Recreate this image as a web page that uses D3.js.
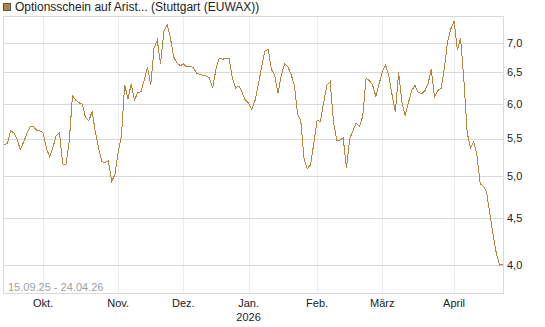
<!DOCTYPE html>
<html>
<head>
<meta charset="utf-8">
<script src="https://cdn.jsdelivr.net/npm/d3@7"></script>
<style>
  body { margin: 0; background: #fff; }
  svg { display: block; font-family: "Liberation Sans", Arial, sans-serif; }
</style>
</head>
<body>
<svg id="chart" width="545" height="327"></svg>
<script>
(function() {

  'use strict';

  // chart data
  var title = 'Optionsschein auf Arist... (Stuttgart (EUWAX))';
  var rangeLabel = '15.09.25 - 24.04.26';
  var startDate = new Date(2025, 8, 15);
  var endDate = new Date(2026, 3, 24);
  var holidays = ['2025-12-24', '2025-12-25', '2025-12-26', '2026-01-01', '2026-04-03', '2026-04-06'];

  var values = [
    5.42, 5.43, 5.61, 5.58, 5.49, 5.35, 5.45, 5.57, 5.67, 5.67,
    5.62, 5.61, 5.58, 5.37, 5.25, 5.38, 5.54, 5.58, 5.16, 5.15,
    5.46, 6.13, 6.06, 6.02, 6.00, 5.80, 5.75, 5.89, 5.60, 5.37,
    5.19, 5.18, 5.20, 4.94, 5.02, 5.32, 5.53, 6.30, 6.08, 6.31,
    6.06, 6.18, 6.19, 6.38, 6.59, 6.30, 6.91, 7.05, 6.64, 7.20,
    7.33, 7.10, 6.76, 6.66, 6.61, 6.64, 6.59, 6.60, 6.58, 6.49,
    6.47, 6.45, 6.44, 6.41, 6.25, 6.56, 6.74, 6.72, 6.73, 6.73,
    6.41, 6.25, 6.28, 6.18, 6.06, 6.02, 5.92, 6.06, 6.31, 6.59,
    6.86, 6.89, 6.55, 6.45, 6.17, 6.44, 6.64, 6.60, 6.47, 6.30,
    5.86, 5.75, 5.23, 5.10, 5.15, 5.44, 5.76, 5.74, 6.02, 6.29,
    6.35, 5.75, 5.48, 5.48, 5.51, 5.11, 5.50, 5.61, 5.72, 5.67,
    5.82, 6.40, 6.37, 6.30, 6.12, 6.31, 6.51, 6.62, 6.44, 6.14,
    5.89, 6.50, 6.03, 5.83, 6.02, 6.21, 6.29, 6.18, 6.16, 6.20,
    6.31, 6.55, 6.11, 6.21, 6.24, 6.56, 7.02, 7.25, 7.40, 6.88,
    7.08, 6.38, 5.59, 5.37, 5.46, 5.28, 4.91, 4.88, 4.80, 4.54,
    4.31, 4.11, 4.00, 4.01
  ];

  var yTicks = [4.0, 4.5, 5.0, 5.5, 6.0, 6.5, 7.0];
  var monthLabels = ['Okt.', 'Nov.', 'Dez.', 'Jan.', 'Feb.', 'März', 'April'];
  var yearLabels = ['', '', '', '2026', '', '', ''];

  // trading days (weekdays without exchange holidays)
  var fmt = d3.timeFormat('%Y-%m-%d');
  var days = d3.timeDay.range(startDate, d3.timeDay.offset(endDate, 1)).filter(function(d) {
    var wd = d.getDay();
    return wd !== 0 && wd !== 6 && holidays.indexOf(fmt(d)) < 0;
  });

  var data = days.map(function(d, i) { return { date: d, value: values[i] }; });

  // first trading day of every month after the start
  var monthStarts = [];
  days.forEach(function(d, i) {
    if (i > 0 && d.getMonth() !== days[i - 1].getMonth()) monthStarts.push(i);
  });

  var left = 3, right = 503, top = 16, bottom = 293;
  var svg = d3.select('#chart');

  var x = d3.scaleLinear().domain([0, days.length - 1]).range([left + 1, right]);
  var y = d3.scaleLog().domain([3.727, 7.493]).range([bottom, top]);

  // vertical month grid
  svg.append('g')
    .selectAll('line')
    .data(monthStarts)
    .join('line')
    .attr('x1', function(d) { return Math.round(x(d)) + 0.5; })
    .attr('x2', function(d) { return Math.round(x(d)) + 0.5; })
    .attr('y1', top)
    .attr('y2', bottom)
    .attr('stroke', '#ececec');

  // horizontal value grid
  svg.append('g')
    .selectAll('line')
    .data(yTicks)
    .join('line')
    .attr('x1', left)
    .attr('x2', right)
    .attr('y1', function(d) { return Math.round(y(d)) + 0.5; })
    .attr('y2', function(d) { return Math.round(y(d)) + 0.5; })
    .attr('stroke', '#d9d9d9');

  // frame
  svg.append('rect')
    .attr('x', left + 0.5)
    .attr('y', top + 0.5)
    .attr('width', right - left)
    .attr('height', bottom - top)
    .attr('fill', 'none')
    .attr('stroke', '#d9d9d9');

  // price line
  var line = d3.line()
    .x(function(d, i) { return x(i); })
    .y(function(d) { return y(d.value); });

  svg.append('path')
    .datum(data)
    .attr('d', line)
    .attr('fill', 'none')
    .attr('stroke', '#b5853c')
    .attr('stroke-width', 1)
    .attr('shape-rendering', 'crispEdges');

  // y labels on the right
  svg.append('g')
    .selectAll('text')
    .data(yTicks)
    .join('text')
    .attr('x', right + 4)
    .attr('y', function(d) { return y(d); })
    .attr('dy', '0.35em')
    .attr('font-size', 11)
    .attr('fill', '#222')
    .text(function(d) { return d.toFixed(1).replace('.', ','); });

  // x labels
  svg.append('g')
    .selectAll('text')
    .data(monthStarts)
    .join('text')
    .attr('x', function(d) { return x(d); })
    .attr('y', 307)
    .attr('text-anchor', 'middle')
    .attr('font-size', 11)
    .attr('fill', '#222')
    .text(function(d, i) { return monthLabels[i]; });

  svg.append('g')
    .selectAll('text')
    .data(monthStarts)
    .join('text')
    .attr('x', function(d) { return x(d); })
    .attr('y', 321)
    .attr('text-anchor', 'middle')
    .attr('font-size', 11)
    .attr('fill', '#222')
    .text(function(d, i) { return yearLabels[i]; });

  // date range label
  svg.append('text')
    .attr('x', 8)
    .attr('y', 291)
    .attr('font-size', 11)
    .attr('fill', '#a0a0a0')
    .text(rangeLabel);

  // legend / title
  svg.append('rect')
    .attr('x', 3.5)
    .attr('y', 3.5)
    .attr('width', 7)
    .attr('height', 7)
    .attr('fill', '#b5853c')
    .attr('stroke', '#555');

  svg.append('text')
    .attr('x', 15)
    .attr('y', 11)
    .attr('font-size', 12)
    .attr('fill', '#222')
    .text(title);

})();
</script>
</body>
</html>
